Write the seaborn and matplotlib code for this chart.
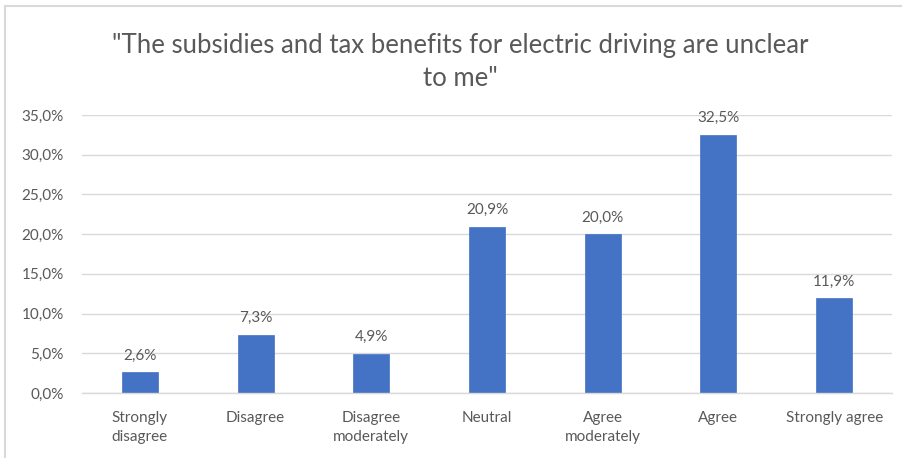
import matplotlib
matplotlib.use("Agg")
import matplotlib.pyplot as plt
import seaborn as sns
import pandas as pd
from matplotlib.patches import Rectangle

categories = ["Strongly\ndisagree", "Disagree", "Disagree\nmoderately", "Neutral",
              "Agree\nmoderately", "Agree", "Strongly agree"]
values = [2.6, 7.3, 4.9, 20.9, 20.0, 32.5, 11.9]
yticks = [0, 5, 10, 15, 20, 25, 30, 35]
title = "\"The subsidies and tax benefits for electric driving are unclear\nto me\""

sns.set_theme(style="white")
plt.rcParams['font.family'] = ['Lato', 'DejaVu Sans']

W, H = 903, 458
fig = plt.figure(figsize=(W / 100, H / 100), dpi=100)
ax = fig.add_axes([82 / W, 1 - 393 / H, (892 - 82) / W, (393 - 115) / H])

df = pd.DataFrame({"cat": categories, "val": values})
sns.barplot(data=df, x="cat", y="val", ax=ax, color="#4472C4", width=0.31,
            saturation=1, edgecolor="#4472C4", linewidth=0.5)

ax.set_ylim(0, 35)
ax.set_yticks(yticks)
ax.set_yticklabels([f"{t:.1f}".replace(".", ",") + "%" for t in yticks])
ax.yaxis.grid(True, color="#D9D9D9", linewidth=1)
ax.set_axisbelow(True)
for s in ["top", "right", "left"]:
    ax.spines[s].set_visible(False)
ax.spines["bottom"].set_color("#D9D9D9")
ax.spines["bottom"].set_linewidth(1)
ax.tick_params(axis="both", length=0, labelsize=11, labelcolor="#595959")
ax.tick_params(axis="y", pad=13)
ax.tick_params(axis="x", pad=13)
ax.set_xlabel("")
ax.set_ylabel("")
for lbl in ax.get_xticklabels():
    lbl.set_linespacing(1.45)

for i, v in enumerate(values):
    ax.annotate(f"{v:.1f}".replace(".", ",") + "%", (i, v), xytext=(0, 7),
                textcoords="offset points", ha="center", va="bottom",
                fontsize=11, color="#595959")

fig.text(460 / W, 1 - 62 / H, title, ha="center", va="center", fontsize=18.5,
         color="#595959", linespacing=1.42)

fig.patches.append(Rectangle((5 / W, -0.1), 1.1, 1 - 6 / H + 0.1, transform=fig.transFigure,
                             fill=False, edgecolor="#D9D9D9", linewidth=1.5))

fig.savefig("out.png", dpi=100)
